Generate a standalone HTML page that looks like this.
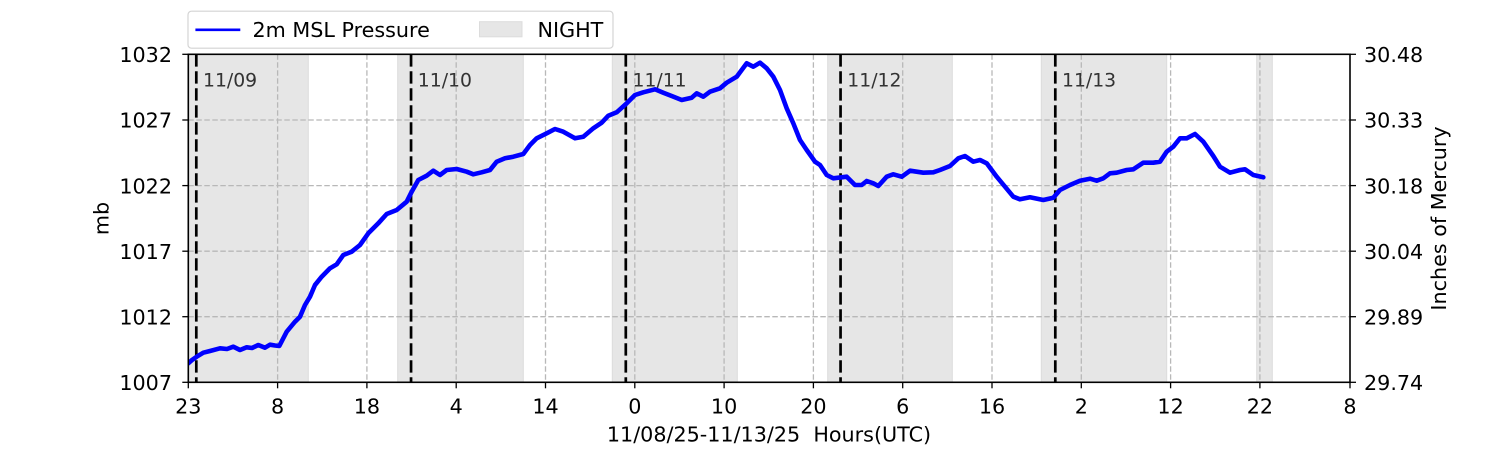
<!DOCTYPE html>
<html><head><meta charset="utf-8">
<style>
html,body{margin:0;padding:0;background:#fff;}
svg{display:block;}
text{font-family:"DejaVu Sans","Liberation Sans",sans-serif;}
</style></head>
<body>
<svg width="1500" height="450" viewBox="0 0 1500 450" xmlns="http://www.w3.org/2000/svg">
<defs><clipPath id="ax"><rect x="188.3" y="54.3" width="1161.7" height="328"/></clipPath></defs>
<!-- night shading -->
<g fill="#e6e6e6" stroke="#dcdcdc" stroke-width="1">
<rect x="188.3" y="54.3" width="120" height="328"/>
<rect x="397.7" y="54.3" width="125.6" height="328"/>
<rect x="612.3" y="54.3" width="125" height="328"/>
<rect x="827.7" y="54.3" width="124.6" height="328"/>
<rect x="1041.3" y="54.3" width="125.4" height="328"/>
<rect x="1256.7" y="54.3" width="15.6" height="328"/>
</g>
<!-- grid -->
<g stroke="#b8b8b8" stroke-width="1.3" stroke-dasharray="5.5 2.5" fill="none">
<line x1="188.3" x2="1350" y1="120" y2="120"/>
<line x1="188.3" x2="1350" y1="185.6" y2="185.6"/>
<line x1="188.3" x2="1350" y1="251.2" y2="251.2"/>
<line x1="188.3" x2="1350" y1="316.7" y2="316.7"/>
<line x1="277.6" x2="277.6" y1="54.3" y2="382.3"/>
<line x1="366.9" x2="366.9" y1="54.3" y2="382.3"/>
<line x1="456.2" x2="456.2" y1="54.3" y2="382.3"/>
<line x1="545.5" x2="545.5" y1="54.3" y2="382.3"/>
<line x1="634.8" x2="634.8" y1="54.3" y2="382.3"/>
<line x1="724.1" x2="724.1" y1="54.3" y2="382.3"/>
<line x1="813.4" x2="813.4" y1="54.3" y2="382.3"/>
<line x1="902.7" x2="902.7" y1="54.3" y2="382.3"/>
<line x1="992" x2="992" y1="54.3" y2="382.3"/>
<line x1="1081.3" x2="1081.3" y1="54.3" y2="382.3"/>
<line x1="1170.6" x2="1170.6" y1="54.3" y2="382.3"/>
<line x1="1259.9" x2="1259.9" y1="54.3" y2="382.3"/>
</g>
<!-- date lines -->
<g stroke="#000" stroke-width="2.7" stroke-dasharray="12.3 4.7" fill="none">
<line x1="196.3" x2="196.3" y1="54.3" y2="382.3"/>
<line x1="411.05" x2="411.05" y1="54.3" y2="382.3"/>
<line x1="625.8" x2="625.8" y1="54.3" y2="382.3"/>
<line x1="840.55" x2="840.55" y1="54.3" y2="382.3"/>
<line x1="1055.3" x2="1055.3" y1="54.3" y2="382.3"/>
</g>
<g font-size="18.8" fill="#333">
<text x="203" y="86.5">11/09</text>
<text x="417.8" y="86.5">11/10</text>
<text x="632.5" y="86.5">11/11</text>
<text x="847.3" y="86.5">11/12</text>
<text x="1062" y="86.5">11/13</text>
</g>
<!-- series -->
<polyline clip-path="url(#ax)" fill="none" stroke="#0000ff" stroke-width="4.6" stroke-linejoin="round" stroke-linecap="round" points="
188.3,363.3 192,360 196.7,356.7 203.3,352.7 210,351 220,348.3 227,349 233.3,346.7 240,350 246.7,347.3 252,348 258.3,345 265,347.7 270,344.7 275,345.5 279.3,346
286.7,331.7 295,321.7 300,316.7 305,305 310,296.7 315,285 321.7,276.7 330,268.3 336.7,264.3 343.3,255 351.7,251.7 360,245 368.3,233.3 378.3,223.3 386.7,214 396.7,210
406.7,201.7 411.7,191.7 418.3,180 426.7,175.7 433.3,170.7 440,175 446.7,170 456.7,169 466.7,171.7 473.3,174.3 481.7,172.3 490,170 496.7,161.7 505,158.3 513.3,156.7 523.3,154
530,145 536.7,138.3 546.7,133.3 555,129 563.3,131.7 575,138.3 583.3,136.7 593.3,128.3 601.7,122.7 608.3,115.7 616.7,112.3 626.7,103.3 635,95 643.3,92.3 655,89.3 663.3,92.7
671.7,96 681.7,100 691.7,97.7 696.7,93.3 703.3,96.7 710,91.7 720,88.3 726.7,82.7 736.7,76.7 746.7,63.3 753.3,66.7 760,62.7 766.7,68.3 773.3,76.7 780,90 786.7,108.3
793.3,123.3 800,140 806.7,150 815,161.7 820,165 826.7,175 833.3,178.3 846.7,176.7 855,185 861.7,185 866.7,181 873.3,183.3 878.3,186 886.7,176.7 893.3,174.3 901.7,176.7
910,170.7 923.3,172.7 933.3,172.3 940,170 950,166 958.3,158.3 965,156 973.3,161.7 980,160 986.7,163.3 996.7,176.7 1005,186.7 1013.3,196.7 1020,199.3 1030,197.3 1043.3,200
1053.3,197.7 1060,190 1070,185 1080,180.7 1090,178.7 1096.7,180.7 1103.3,178.3 1110,173.3 1116.7,172.7 1126.7,170 1133.3,169.3 1143.3,162.7 1153.3,162.7 1160,161.7
1166.7,151.7 1173.3,146.7 1180,138.3 1186.7,138.3 1195,134 1203.3,141.7 1213.3,156 1220,166.7 1230,172.7 1240,170 1245,169.3 1253.3,175 1263.3,177.3"/>
<!-- spines -->
<rect x="188.3" y="54.3" width="1161.7" height="328" fill="none" stroke="#000" stroke-width="1.6"/>
<!-- ticks -->
<g stroke="#000" stroke-width="1.3">
<line x1="182.3" x2="188.3" y1="54.3" y2="54.3"/>
<line x1="182.3" x2="188.3" y1="120" y2="120"/>
<line x1="182.3" x2="188.3" y1="185.6" y2="185.6"/>
<line x1="182.3" x2="188.3" y1="251.2" y2="251.2"/>
<line x1="182.3" x2="188.3" y1="316.7" y2="316.7"/>
<line x1="182.3" x2="188.3" y1="382.3" y2="382.3"/>
<line x1="1350" x2="1356" y1="54.3" y2="54.3"/>
<line x1="1350" x2="1356" y1="120" y2="120"/>
<line x1="1350" x2="1356" y1="185.6" y2="185.6"/>
<line x1="1350" x2="1356" y1="251.2" y2="251.2"/>
<line x1="1350" x2="1356" y1="316.7" y2="316.7"/>
<line x1="1350" x2="1356" y1="382.3" y2="382.3"/>
<line x1="188.3" x2="188.3" y1="382.3" y2="388.3"/>
<line x1="277.6" x2="277.6" y1="382.3" y2="388.3"/>
<line x1="366.9" x2="366.9" y1="382.3" y2="388.3"/>
<line x1="456.2" x2="456.2" y1="382.3" y2="388.3"/>
<line x1="545.5" x2="545.5" y1="382.3" y2="388.3"/>
<line x1="634.8" x2="634.8" y1="382.3" y2="388.3"/>
<line x1="724.1" x2="724.1" y1="382.3" y2="388.3"/>
<line x1="813.4" x2="813.4" y1="382.3" y2="388.3"/>
<line x1="902.7" x2="902.7" y1="382.3" y2="388.3"/>
<line x1="992" x2="992" y1="382.3" y2="388.3"/>
<line x1="1081.3" x2="1081.3" y1="382.3" y2="388.3"/>
<line x1="1170.6" x2="1170.6" y1="382.3" y2="388.3"/>
<line x1="1259.9" x2="1259.9" y1="382.3" y2="388.3"/>
<line x1="1350" x2="1350" y1="382.3" y2="388.3"/>
</g>
<g font-size="20.7" fill="#000">
<g text-anchor="end">
<text x="172" y="62">1032</text>
<text x="172" y="127.7">1027</text>
<text x="172" y="193.3">1022</text>
<text x="172" y="258.9">1017</text>
<text x="172" y="324.4">1012</text>
<text x="172" y="390">1007</text>
</g>
<g>
<text x="1364" y="62">30.48</text>
<text x="1364" y="127.7">30.33</text>
<text x="1364" y="193.3">30.18</text>
<text x="1364" y="258.9">30.04</text>
<text x="1364" y="324.4">29.89</text>
<text x="1364" y="390">29.74</text>
</g>
<g text-anchor="middle">
<text x="188.3" y="413.5">23</text>
<text x="277.6" y="413.5">8</text>
<text x="366.9" y="413.5">18</text>
<text x="456.2" y="413.5">4</text>
<text x="545.5" y="413.5">14</text>
<text x="634.8" y="413.5">0</text>
<text x="724.1" y="413.5">10</text>
<text x="813.4" y="413.5">20</text>
<text x="902.7" y="413.5">6</text>
<text x="992" y="413.5">16</text>
<text x="1081.3" y="413.5">2</text>
<text x="1170.6" y="413.5">12</text>
<text x="1259.9" y="413.5">22</text>
<text x="1350" y="413.5">8</text>
<text x="769" y="441.5" xml:space="preserve">11/08/25-11/13/25  Hours(UTC)</text>
<text transform="translate(108.5,218.5) rotate(-90)">mb</text>
<text transform="translate(1446,218.5) rotate(-90)">Inches of Mercury</text>
</g>
</g>
<!-- legend -->
<rect x="188" y="11.2" width="425" height="37" rx="3.5" fill="#fff" fill-opacity="0.8" stroke="#d4d4d4" stroke-width="1.2"/>
<line x1="195.4" x2="240.3" y1="29.8" y2="29.8" stroke="#0000ff" stroke-width="2.7"/>
<text x="252.5" y="36.8" font-size="20.7" fill="#000">2m MSL Pressure</text>
<rect x="479.5" y="21.7" width="42.5" height="15.1" fill="#e6e6e6" stroke="#dcdcdc" stroke-width="1"/>
<text x="537.5" y="36.8" font-size="20.7" fill="#000">NIGHT</text>
</svg>
</body></html>
